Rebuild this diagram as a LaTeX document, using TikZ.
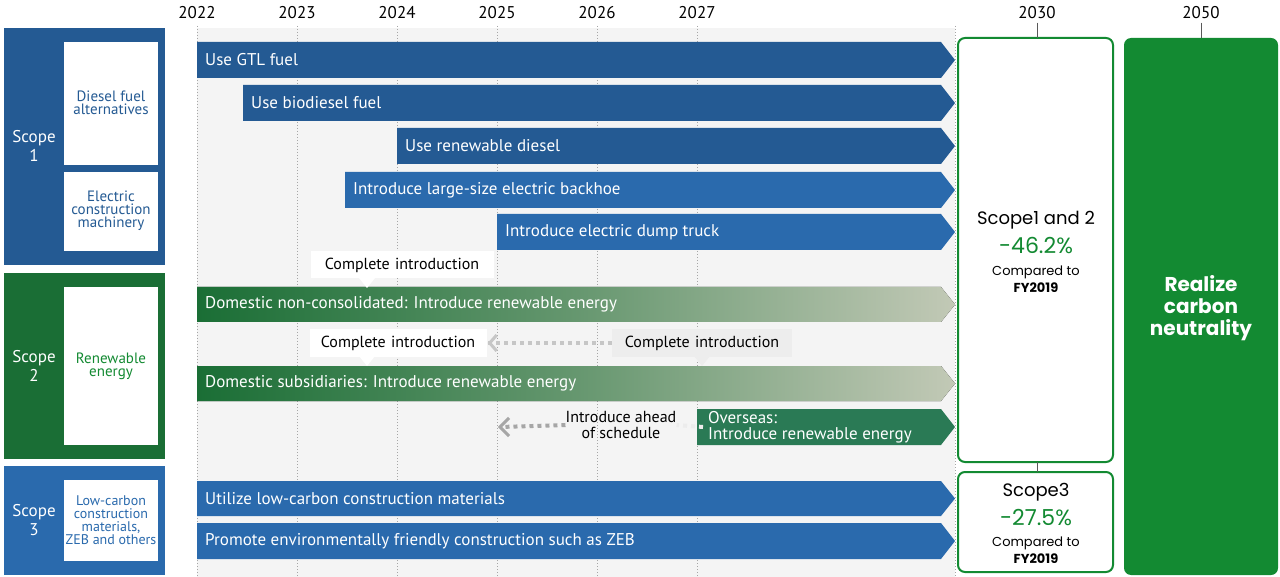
\documentclass[tikz,border=0pt]{standalone}
\usepackage{fontspec}
\setmainfont{PT Sans}
\newfontfamily\geo{Poppins}
\usetikzlibrary{arrows.meta,calc}
\definecolor{dblue}{HTML}{245A93}
\definecolor{mblue}{HTML}{2A6AAD}
\definecolor{dgreen}{HTML}{1A6E35}
\definecolor{bgreen}{HTML}{138A32}
\definecolor{ogreen}{HTML}{2A7A55}
\definecolor{gfade}{HTML}{C2C9B6}
\newcommand{\rbar}[6]{% x1, y1, y2, fill options, name, text
  \fill[#4] (#1,#2) -- (941,#2) -- (955,{(#2+#3)/2}) -- (941,#3) -- (#1,#3) -- cycle;
  \node[bartext] (#5) at (#1+8,{(#2+#3)/2}) {#6};}
\begin{document}
\begin{tikzpicture}[x=1pt,y=-1pt,
  bartext/.style={anchor=west,text=white,font=\fontsize{17}{17}\selectfont,inner sep=0pt},
  yr/.style={font=\fontsize{17}{17}\selectfont},
  inbox/.style={fill=white,draw=none},
  intext/.style={align=center,font=\fontsize{15}{13}\selectfont,inner sep=0pt},
  call/.style={fill=white,font=\fontsize{16}{16}\selectfont,inner sep=0pt,minimum height=27,text width=#1,align=center},
  gdots/.style={draw=gray!45,line width=4pt,dash pattern=on 4pt off 4pt},
  tgt/.style={draw=bgreen,line width=2pt,rounded corners=7,fill=white}]
\useasboundingbox (0,0) rectangle (1280,577);
\fill[white] (0,0) rectangle (1280,577);
\fill[gray!9] (197,28) rectangle (955,577);
% years
\foreach \y/\x in {2022/197,2023/297,2024/397,2025/497,2026/597,2027/697}{
  \node[yr] (y\y) at (\x,13) {\y};
  \draw[gray!70,dotted,line width=1pt] (\x,26) -- (\x,577);}
\draw[gray!70,dotted,line width=1pt] (955,26) -- (955,577);
% left scope boxes
\fill[dblue] (4,28) rectangle (165,265);
\fill[dgreen] (4,273) rectangle (165,459);
\fill[mblue] (4,466) rectangle (165,575);
\node[intext,text=white,font=\fontsize{17}{19}\selectfont] (s1) at (34,146) {Scope\\1};
\node[intext,text=white,font=\fontsize{17}{19}\selectfont] (s2) at (34,366) {Scope\\2};
\node[intext,text=white,font=\fontsize{17}{19}\selectfont] (s3) at (34,520) {Scope\\3};
\fill[inbox] (64,42) rectangle (158,165);
\fill[inbox] (64,172) rectangle (158,251);
\fill[inbox] (64,287) rectangle (158,445);
\fill[inbox] (64,480) rectangle (158,561);
\node[intext,text=dblue] (d1) at (111,103) {Diesel fuel\\alternatives};
\node[intext,text=dblue] (d2) at (111,211) {Electric\\construction\\machinery};
\node[intext,text=bgreen] (d3) at (111,366) {Renewable\\energy};
\node[intext,text=mblue,font=\fontsize{14}{13}\selectfont] (d4) at (111,520) {Low-carbon\\construction\\materials,\\ZEB and others};
% bars
\rbar{197}{42}{78}{dblue}{b1}{Use GTL fuel}
\rbar{243}{85}{121}{dblue}{b2}{Use biodiesel fuel}
\rbar{397}{128}{164}{dblue}{b3}{Use renewable diesel}
\rbar{345}{172}{208}{mblue}{b4}{Introduce large-size electric backhoe}
\rbar{497}{214}{250}{mblue}{b5}{Introduce electric dump truck}
\rbar{197}{287}{322}{left color=dgreen,right color=gfade,middle color=dgreen!55!gfade}{b6}{Domestic non-consolidated: Introduce renewable energy}
\rbar{197}{366}{401}{left color=dgreen,right color=gfade,middle color=dgreen!55!gfade}{b7}{Domestic subsidiaries: Introduce renewable energy}
\fill[ogreen] (697,409) -- (941,409) -- (955,427) -- (941,445) -- (697,445) -- cycle;
\node[bartext,align=left,font=\fontsize{17}{16}\selectfont] (b8) at (708,427) {Overseas:\\Introduce renewable energy};
\rbar{197}{481}{516}{mblue}{b9}{Utilize low-carbon construction materials}
\rbar{197}{523}{559}{mblue}{b10}{Promote environmentally friendly construction such as ZEB}
% callouts
\node[call=183] (c1) at (402,265) {Complete introduction};
\fill[white] (359,278) -- (375,278) -- (367,288) -- cycle;
\node[call=177] (c2) at (398,343) {Complete introduction};
\fill[white] (359,356) -- (375,356) -- (367,366) -- cycle;
\node[call=180,fill=gray!14] (c3) at (702,343) {Complete introduction};
\fill[gray!14] (694,356) -- (710,356) -- (702,366) -- cycle;
\draw[gdots] (c3.west) -- (c2.east);
\draw[gray!45,line width=3pt] ($(c2.east)+(10,-8)$) -- ($(c2.east)+(3,0)$) -- ($(c2.east)+(10,8)$);
\node[intext,font=\fontsize{16}{16}\selectfont] (ah) at (621,425) {Introduce ahead\\of schedule};
\coordinate (ahl) at (500,427);
\draw[draw=gray!70,line width=4pt,dash pattern=on 4pt off 4pt] (ah.west) -- (ahl);
\draw[gray!15,line width=4pt,dash pattern=on 4pt off 4pt] (b8.west) ++(-5,0) -- (ah.east);
\draw[gray!70,line width=3pt] ($(ahl)+(9,-9)$) -- (ahl) -- ($(ahl)+(9,9)$);
% targets
\node[yr] (y2030) at (1037,13) {2030};
\node[yr] (y2050) at (1201,13) {2050};
\draw[tgt] (958,38) rectangle (1113,462);
\draw[tgt] (958,472) rectangle (1113,572);
\draw[gray!70!black,line width=1pt] (y2030.south) -- (1037,38);
\draw[gray!70!black,line width=1pt] (1037,462) -- (1037,472);
\draw[gray!70!black,line width=1pt] (y2050.south) -- (1201,38);
\fill[bgreen,rounded corners=7] (1124,38) rectangle (1278,575);
\node[intext,font=\geo\fontsize{18}{21}\selectfont] (t1) at (1036,220) {Scope1 and 2};
\node[intext,text=bgreen,font=\geo\fontsize{22}{22}\selectfont] (t2) at (1036,246) {-46.2\%};
\node[intext,font=\geo\fontsize{13}{17}\selectfont] (t3) at (1036,279) {Compared to\\\textbf{FY2019}};
\node[intext,font=\geo\fontsize{18}{21}\selectfont] (t4) at (1036,492) {Scope3};
\node[intext,text=bgreen,font=\geo\fontsize{22}{22}\selectfont] (t5) at (1036,518) {-27.5\%};
\node[intext,font=\geo\fontsize{13}{17}\selectfont] (t6) at (1036,550) {Compared to\\\textbf{FY2019}};
\node[intext,text=white,font=\geo\bfseries\fontsize{20}{22}\selectfont] (cn) at (1201,308) {Realize\\carbon\\neutrality};
\end{tikzpicture}
\end{document}
